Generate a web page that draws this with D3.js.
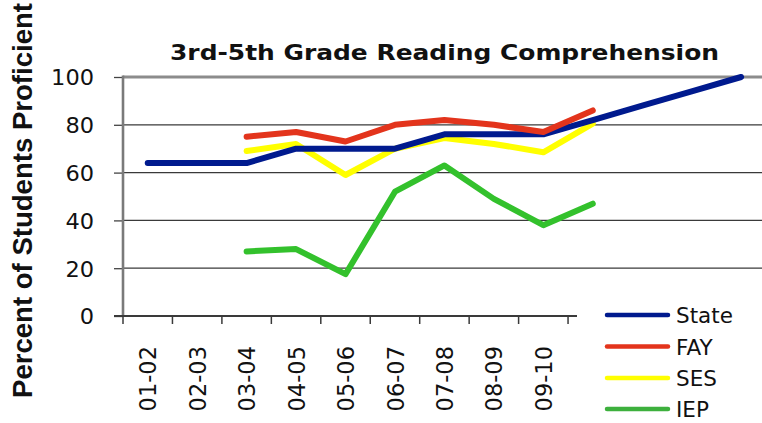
<!DOCTYPE html>
<html>
<head>
<meta charset="utf-8">
<script src="https://cdn.jsdelivr.net/npm/d3@7"></script>
<style>
  html, body { margin: 0; padding: 0; background: #fff; }
  svg { display: block; }
</style>
</head>
<body>
<svg id="chart" width="762" height="423"></svg>
<script>
// ---- data ----
const categories = ["01-02","02-03","03-04","04-05","05-06","06-07","07-08","08-09","09-10","10-11","11-12","12-13","13-14"];
const labelledCategories = ["01-02","02-03","03-04","04-05","05-06","06-07","07-08","08-09","09-10"];
const stateValues = [64, 64, 64, 70, 70, 70, 76, 76, 76, 82, 88, 94, 100];
const fayValues   = [null, null, 75, 77, 73, 80, 82, 80, 77, 86, null, null, null];
const sesValues   = [null, null, 69, 72, 59, 70, 74.5, 72, 68.5, 80.5, null, null, null];
const iepValues   = [null, null, 27, 28, 17.5, 52, 63, 49, 38, 47, null, null, null];
const yTicks = [0, 20, 40, 60, 80, 100];
const seriesNames = ["State", "FAY", "SES", "IEP"];
const seriesColors = ["#001a8e", "#e3341c", "#ffff00", "#33c12c"];
const legendColors = ["#001a8e", "#e3341c", "#ffff00", "#3db03d"];
const chartTitle = "3rd-5th Grade Reading Comprehension";
const yTitle = "Percent of Students Proficient";

const series = [stateValues, fayValues, sesValues, iepValues];

// ---- layout ----
const svg = d3.select("#chart");
const plotLeft = 123, plotTop = 77, plotBottom = 316;
const step = 49.45;
const W = 762;
const x = d3.scaleBand().domain(categories).range([plotLeft, plotLeft + step * categories.length]).paddingInner(0).paddingOuter(0);
const y = d3.scaleLinear().domain([0, 100]).range([plotBottom, plotTop]);

// gridlines
const grid = svg.append("g");
grid.selectAll("line.g").data(yTicks.filter(d => d > 0 && d < 100)).join("line")
  .attr("x1", plotLeft).attr("x2", W)
  .attr("y1", d => y(d)).attr("y2", d => y(d))
  .attr("stroke", "#3a3a3a").attr("stroke-width", 1.3);
grid.append("line").attr("x1", plotLeft).attr("x2", W).attr("y1", y(100)).attr("y2", y(100))
  .attr("stroke", "#8c8c8c").attr("stroke-width", 3);

// lines
const lineGen = d3.line()
  .defined(d => d.v !== null)
  .x(d => x(d.c) + x.bandwidth() / 2)
  .y(d => y(d.v));

const linesG = svg.append("g");
const order = [3, 2, 0, 1];
order.forEach(i => {
  const data = categories.map((c, j) => ({ c, v: series[i][j] }));
  linesG.append("path")
    .datum(data)
    .attr("d", lineGen)
    .attr("fill", "none")
    .attr("stroke", seriesColors[i])
    .attr("stroke-width", 6)
    .attr("stroke-linejoin", "round")
    .attr("stroke-linecap", "round");
});

// y axis
const yAxis = d3.axisLeft(y).tickValues(yTicks).tickSize(9).tickPadding(20).tickFormat(d3.format("d"));
const yg = svg.append("g").attr("transform", `translate(${plotLeft},0)`).call(yAxis);
yg.select(".domain").remove();
yg.selectAll(".tick line").attr("stroke", "#444").attr("stroke-width", 1.3);
yg.selectAll(".tick text")
  .attr("font-family", "'DejaVu Sans', Verdana, sans-serif")
  .attr("font-size", 22).attr("fill", "#111").attr("x", -29).attr("dy", "0.36em")
  .attr("textLength", d => String(d).length * 14.3).attr("lengthAdjust", "spacingAndGlyphs");
svg.append("line").attr("x1", plotLeft).attr("x2", plotLeft).attr("y1", plotTop - 1.5).attr("y2", plotBottom + 1)
  .attr("stroke", "#7a7a7a").attr("stroke-width", 2.6);

// x axis
const axisEnd = 577;
svg.append("line").attr("x1", plotLeft - 9).attr("x2", axisEnd).attr("y1", plotBottom).attr("y2", plotBottom)
  .attr("stroke", "#3a3a3a").attr("stroke-width", 2.2);
const boundaries = labelledCategories.map(c => x(c)).concat([x(labelledCategories[labelledCategories.length - 1]) + x.bandwidth()]);
svg.append("g").selectAll("line").data(boundaries).join("line")
  .attr("x1", d => d).attr("x2", d => d).attr("y1", plotBottom).attr("y2", plotBottom + 8)
  .attr("stroke", "#3a3a3a").attr("stroke-width", 1.5);
svg.append("g").selectAll("text").data(labelledCategories).join("text")
  .attr("transform", d => `translate(${x(d) + x.bandwidth() / 2 + 0.5},346) rotate(-90)`)
  .attr("text-anchor", "end")
  .attr("dy", "0.36em")
  .attr("font-family", "'DejaVu Sans', Verdana, sans-serif")
  .attr("font-size", 22.5)
  .attr("fill", "#111")
  .text(d => d);

// legend (white box covers rest of axis)
const lg = svg.append("g");
lg.append("rect").attr("x", 578).attr("y", 292).attr("width", W - 578).attr("height", 423 - 292).attr("fill", "#fff");
const legendY = [315, 346.5, 378, 409];
seriesNames.forEach((name, i) => {
  lg.append("line").attr("x1", 607).attr("x2", 668).attr("y1", legendY[i]).attr("y2", legendY[i])
    .attr("stroke", legendColors[i]).attr("stroke-width", 4.5).attr("stroke-linecap", "round");
  lg.append("text").attr("x", 676).attr("y", legendY[i] + 8)
    .attr("font-family", "'DejaVu Sans', Verdana, sans-serif")
    .attr("font-size", 21.5).attr("fill", "#111")
    .text(name);
});

// title
svg.append("text").attr("x", 170).attr("y", 59.5)
  .attr("font-family", "'DejaVu Sans', Verdana, sans-serif")
  .attr("font-weight", "bold").attr("font-size", 20.5).attr("fill", "#111")
  .attr("textLength", 549).attr("lengthAdjust", "spacingAndGlyphs")
  .text(chartTitle);

// y title
svg.append("text")
  .attr("transform", "translate(32,200.5) rotate(-90)")
  .attr("text-anchor", "middle")
  .attr("font-family", "'Liberation Sans', Arial, sans-serif")
  .attr("font-weight", "bold").attr("font-size", 27.5).attr("fill", "#111")
  .attr("textLength", 395).attr("lengthAdjust", "spacingAndGlyphs")
  .text(yTitle);
</script>
</body>
</html>
